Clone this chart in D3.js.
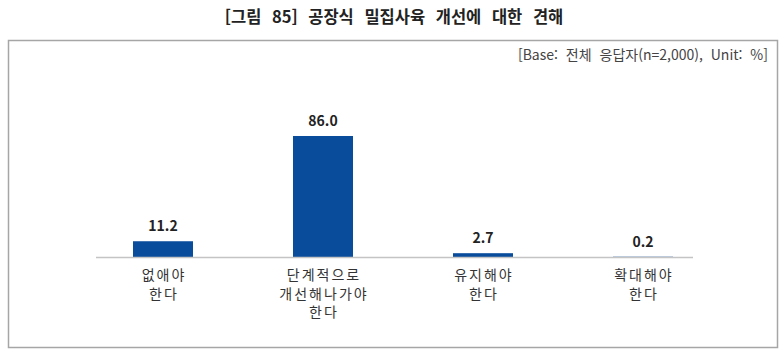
<!DOCTYPE html>
<html lang="ko">
<head>
    <meta charset="UTF-8">
    <title>공장식 밀집사육 개선에 대한 견해</title>
    <script src="https://cdn.jsdelivr.net/npm/d3@7"></script>
    <style>
        body { margin: 0; background: #fff; }
        text { font-family: "Noto Sans CJK KR", "Noto Sans", sans-serif; }
    </style>
</head>
<body>
<script>
    const categories = [['없애야', '한다'], ['단계적으로', '개선해나가야', '한다'], ['유지해야', '한다'], ['확대해야', '한다']]
    const values = [11.2, 86.0, 2.7, 0.2]
    const title = '[그림 85] 공장식 밀집사육 개선에 대한 견해'
    const note = '[Base: 전체 응답자(n=2,000), Unit: %]'

    const [width, height] = [780, 352]
    const baseY = 257
    const svg = d3.select('body').append('svg')
        .attr('width', width)
        .attr('height', height)

    // 제목
    svg.append('text')
        .attr('x', 394).attr('y', 23)
        .attr('text-anchor', 'middle')
        .attr('font-size', 16.5)
        .attr('font-weight', 'bold')
        .attr('word-spacing', 6)
        .attr('fill', '#222')
        .text(title)

    // 테두리
    svg.append('rect')
        .attr('x', 8.5).attr('y', 40.5)
        .attr('width', 769).attr('height', 307)
        .attr('fill', 'none')
        .attr('stroke', '#a6a6a6')
        .attr('stroke-width', 1.5)

    svg.append('text')
        .attr('x', 768).attr('y', 60)
        .attr('text-anchor', 'end')
        .attr('font-size', 14)
        .attr('word-spacing', 4)
        .attr('fill', '#444')
        .text(note)

    const idx = values.map((d, i) => i)
    const x = d3.scaleBand().domain(idx).range([83, 723]).paddingInner(0.625).paddingOuter(0.3125)
    const y = d3.scaleLinear().domain([0, 100]).range([baseY, baseY - 140.7])

    svg.append('g').selectAll('rect')
        .data(idx)
        .join('rect')
            .attr('x', i => x(i))
            .attr('y', i => y(values[i]))
            .attr('width', x.bandwidth())
            .attr('height', i => baseY - y(values[i]))
            .attr('fill', '#0a4c9c')

    // 축선
    svg.append('line')
        .attr('x1', 96).attr('x2', 693)
        .attr('y1', baseY + 0.5).attr('y2', baseY + 0.5)
        .attr('stroke', '#c4c4c4')
        .attr('stroke-width', 1.5)

    svg.append('g').selectAll('text')
        .data(idx)
        .join('text')
            .attr('x', i => x(i) + x.bandwidth() / 2)
            .attr('y', i => y(values[i]) - 10)
            .attr('text-anchor', 'middle')
            .attr('font-size', 14)
            .attr('font-weight', 'bold')
            .attr('fill', '#222')
            .text(i => values[i].toFixed(1))

    const labels = svg.append('g').selectAll('text')
        .data(idx)
        .join('text')
            .attr('text-anchor', 'middle')
            .attr('font-size', 14)
            .attr('letter-spacing', 2)
            .attr('fill', '#333')
    labels.selectAll('tspan')
        .data(i => categories[i].map(t => ({ t, i })))
        .join('tspan')
            .attr('x', d => x(d.i) + x.bandwidth() / 2 + 1)
            .attr('y', (d, j) => 280 + j * 18.5)
            .text(d => d.t)
</script>
</body>
</html>
